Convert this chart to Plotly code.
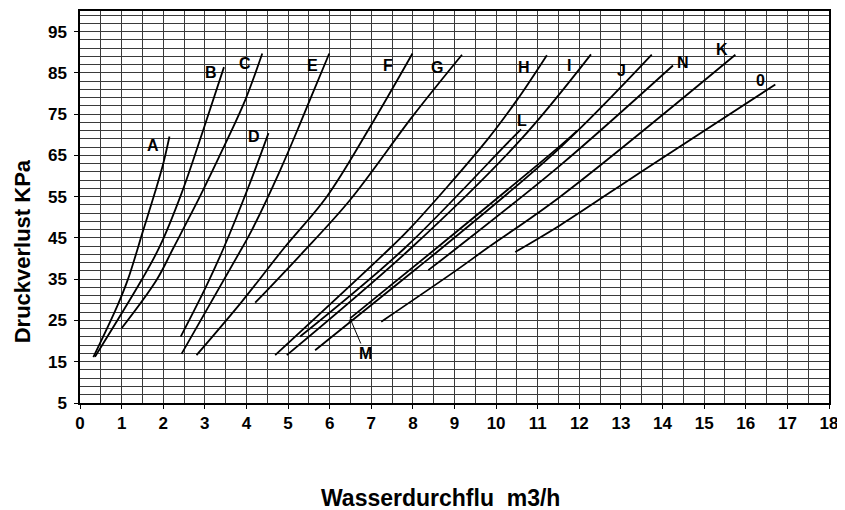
import plotly.graph_objects as go

# ---- data ----
A_x = [0.32, 0.9, 1.16, 1.52, 1.8, 2.0, 2.15]
A_y = [16.1, 28.6, 35.2, 46.9, 56.0, 63.0, 69.6]
B_x = [0.36, 1.48, 1.92, 2.44, 2.96, 3.46]
B_y = [16.2, 34.8, 43.0, 55.8, 71.1, 86.4]
C_x = [1.0, 1.84, 2.24, 2.88, 3.43, 3.97, 4.38]
C_y = [23.1, 34.8, 42.5, 55.0, 66.5, 78.4, 89.7]
D_x = [2.42, 3.0, 3.45, 4.05, 4.53]
D_y = [21.1, 32.6, 42.5, 57.4, 70.4]
E_x = [2.44, 3.89, 4.13, 4.81, 5.29, 5.49, 5.99]
E_y = [16.9, 42.5, 46.9, 61.4, 72.7, 77.6, 89.7]
F_x = [2.80, 3.9, 4.9, 5.93, 6.97, 7.99]
F_y = [16.6, 29.7, 42.5, 55.0, 71.9, 89.7]
G_x = [4.21, 5.29, 6.49, 8.01, 9.18]
G_y = [29.3, 40.8, 54.2, 74.7, 89.4]
H_x = [4.69, 7.45, 7.93, 9.78, 10.5, 11.22]
H_y = [16.6, 42.5, 47.3, 68.7, 78.4, 89.3]
I_x = [4.97, 7.95, 10.58, 12.28]
I_y = [16.6, 42.5, 68.7, 89.5]
J_x = [5.65, 8.09, 8.69, 11.54, 13.74]
J_y = [17.8, 37.6, 42.5, 66.9, 89.4]
K_x = [7.24, 9.05, 9.78, 11.54, 15.75]
K_y = [24.7, 37.2, 42.5, 55.0, 89.4]
L_x = [5.29, 7.8, 10.34, 10.6]
L_y = [21.1, 42.5, 68.7, 71.3]
M_x = [6.49, 8.6, 11.54, 11.95]
M_y = [25.5, 42.8, 67.3, 71.0]
N_x = [8.37, 9.05, 11.54, 14.25]
N_y = [37.2, 42.5, 62.6, 86.8]
O_x = [10.46, 11.54, 13.6, 16.71]
O_y = [41.6, 48.1, 61.8, 82.2]

curves = [(A_x, A_y), (B_x, B_y), (C_x, C_y), (D_x, D_y), (E_x, E_y),
          (F_x, F_y), (G_x, G_y), (H_x, H_y), (I_x, I_y), (J_x, J_y),
          (K_x, K_y), (L_x, L_y), (M_x, M_y), (N_x, N_y), (O_x, O_y)]

label_text = ["A", "B", "C", "D", "E", "F", "G", "H", "I", "J", "N", "K", "0", "L"]
label_x = [1.75, 3.14, 3.97, 4.17, 5.58, 7.41, 8.57, 10.66, 11.76, 13.02, 14.5, 15.44, 16.35, 10.62]
label_y = [67.5, 85.2, 87.2, 69.5, 86.8, 86.8, 86.4, 86.4, 86.8, 85.6, 87.6, 90.6, 83.2, 73.5]

x_title = "Wasserdurchflu\u00a0 m3/h"
y_title = "Druckverlust KPa"

FONT = "Liberation Sans, Arial, sans-serif"
GRID = "#3a3a3a"

fig = go.Figure()
for cx, cy in curves:
    fig.add_trace(go.Scatter(x=cx, y=cy, mode="lines",
                             line=dict(color="black", width=1.8, shape="spline", smoothing=1.0),
                             hoverinfo="skip", showlegend=False))

annotations = []
for t, lx, ly in zip(label_text, label_x, label_y):
    annotations.append(dict(x=lx, y=ly, xref="x", yref="y", text=t, showarrow=False,
                            font=dict(family=FONT, size=16, color="black", weight="bold")))
# M label with pointer to the start of its curve
annotations.append(dict(x=M_x[0], y=M_y[0], xref="x", yref="y", ax=6.85, ay=17.0,
                        axref="x", ayref="y", text="M", showarrow=True,
                        arrowhead=1, arrowsize=0.9, arrowwidth=1, arrowcolor="black",
                        font=dict(family=FONT, size=16, color="black", weight="bold")))
annotations.append(dict(x=-0.0774, y=0.387, xref="paper", yref="paper", text=y_title,
                        textangle=-90, showarrow=False, xanchor="center", yanchor="middle",
                        font=dict(family=FONT, size=22, color="black", weight="bold")))
annotations.append(dict(x=0.481, y=-0.242, xref="paper", yref="paper", text=x_title,
                        showarrow=False, xanchor="center", yanchor="middle",
                        font=dict(family=FONT, size=23, color="black", weight="bold")))

fig.update_layout(
    width=837, height=502,
    margin=dict(l=72, r=16, t=3, b=107, autoexpand=False),
    paper_bgcolor="white", plot_bgcolor="white",
    annotations=annotations,
    xaxis=dict(range=[0, 18], tick0=0, dtick=1, showgrid=True, gridcolor=GRID, gridwidth=1,
               minor=dict(dtick=0.5, showgrid=True, gridcolor=GRID, gridwidth=1),
               showline=True, linecolor="black", linewidth=1.5, mirror=True,
               ticks="outside", ticklen=4, tickcolor="black", zeroline=False,
               automargin=False,
               tickfont=dict(family=FONT, size=17, color="black", weight="bold")),
    yaxis=dict(range=[5, 100], tick0=5, dtick=10, showgrid=True, gridcolor=GRID, gridwidth=1,
               minor=dict(tick0=5, dtick=2, showgrid=True, gridcolor=GRID, gridwidth=1),
               showline=True, linecolor="black", linewidth=1.5, mirror=True,
               ticks="outside", ticklen=4, tickcolor="black", zeroline=False,
               ticklabelstandoff=4, automargin=False,
               tickfont=dict(family=FONT, size=17, color="black", weight="bold")),
)

fig.write_html("out.html")
